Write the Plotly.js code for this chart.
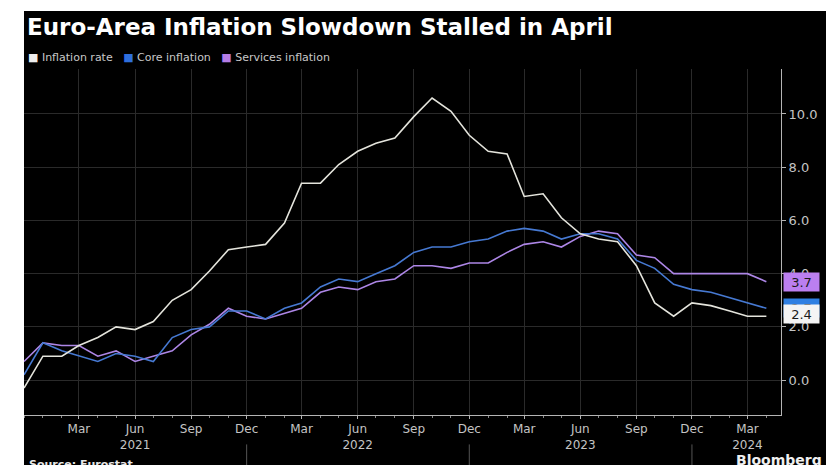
<!DOCTYPE html>
<html>
<head>
<meta charset="utf-8">
<script src="https://cdn.plot.ly/plotly-3.0.1.min.js"></script>
<style>
  html, body { margin: 0; padding: 0; background: #ffffff; }
  #chart { position: absolute; left: 24px; top: 11px; width: 802px; height: 454px; }
</style>
</head>
<body>
<div id="chart"></div>
<script>
// ---- Data (Eurostat, annual % change) ----
const months = [
  '2020-12',
  '2021-01','2021-02','2021-03','2021-04','2021-05','2021-06','2021-07','2021-08','2021-09','2021-10','2021-11','2021-12',
  '2022-01','2022-02','2022-03','2022-04','2022-05','2022-06','2022-07','2022-08','2022-09','2022-10','2022-11','2022-12',
  '2023-01','2023-02','2023-03','2023-04','2023-05','2023-06','2023-07','2023-08','2023-09','2023-10','2023-11','2023-12',
  '2024-01','2024-02','2024-03','2024-04'
];
const inflationRate = [
  -0.3,
  0.9, 0.9, 1.3, 1.6, 2.0, 1.9, 2.2, 3.0, 3.4, 4.1, 4.9, 5.0,
  5.1, 5.9, 7.4, 7.4, 8.1, 8.6, 8.9, 9.1, 9.9, 10.6, 10.1, 9.2,
  8.6, 8.5, 6.9, 7.0, 6.1, 5.5, 5.3, 5.2, 4.3, 2.9, 2.4, 2.9,
  2.8, 2.6, 2.4, 2.4
];
const coreInflation = [
  0.2,
  1.4, 1.1, 0.9, 0.7, 1.0, 0.9, 0.7, 1.6, 1.9, 2.0, 2.6, 2.6,
  2.3, 2.7, 2.9, 3.5, 3.8, 3.7, 4.0, 4.3, 4.8, 5.0, 5.0, 5.2,
  5.3, 5.6, 5.7, 5.6, 5.3, 5.5, 5.5, 5.3, 4.5, 4.2, 3.6, 3.4,
  3.3, 3.1, 2.9, 2.7
];
const servicesInflation = [
  0.7,
  1.4, 1.3, 1.3, 0.9, 1.1, 0.7, 0.9, 1.1, 1.7, 2.1, 2.7, 2.4,
  2.3, 2.5, 2.7, 3.3, 3.5, 3.4, 3.7, 3.8, 4.3, 4.3, 4.2, 4.4,
  4.4, 4.8, 5.1, 5.2, 5.0, 5.4, 5.6, 5.5, 4.7, 4.6, 4.0, 4.0,
  4.0, 4.0, 4.0, 3.7
];
const seriesNames = ['Inflation rate', 'Core inflation', 'Services inflation'];
const tickVals = [
  '2021-03','2021-06','2021-09','2021-12',
  '2022-03','2022-06','2022-09','2022-12',
  '2023-03','2023-06','2023-09','2023-12',
  '2024-03'
];
const tickText = [
  'Mar','Jun<br>2021','Sep','Dec',
  'Mar','Jun<br>2022','Sep','Dec',
  'Mar','Jun<br>2023','Sep','Dec',
  'Mar<br>2024'
];
const yTickVals = [0, 2, 4, 6, 8, 10];

// ---- Styles ----
const lineColors = ['#e4e4dc', '#4679d2', '#ad86e6'];
const labelColors = ['#f4f4f4', '#2f7fe2', '#bb7ff0'];
const legendColors = ['#eeeeee', '#2f6fdc', '#b57de6'];
const seriesData = [inflationRate, coreInflation, servicesInflation];

const traces = seriesData.map((vals, i) => ({
  type: 'scatter',
  mode: 'lines',
  x: months,
  y: vals,
  name: seriesNames[i],
  line: { color: lineColors[i], width: 1.6 },
  showlegend: false,
  hoverinfo: 'skip'
}));
// draw order: services, core, headline on top
const ordered = [traces[2], traces[1], traces[0]];

const legendText = seriesNames.map((n, i) =>
  '<span style="color:' + legendColors[i] + '">■</span> ' + n
).join('&nbsp;&nbsp;&nbsp;');

const annotations = [
  {
    xref: 'paper', yref: 'paper', x: 0.002, y: 1.032,
    xanchor: 'left', yanchor: 'middle', showarrow: false,
    text: legendText,
    font: { family: 'DejaVu Sans', size: 11, color: '#c8c8c8' }
  },
  {
    xref: 'paper', yref: 'paper', x: 0.004, y: -0.118,
    xanchor: 'left', yanchor: 'top', showarrow: false,
    text: 'Source: Eurostat',
    font: { family: 'DejaVu Sans', size: 11, color: '#e8e8e8', weight: 'bold' }
  },
  {
    xref: 'paper', yref: 'paper', x: 0.938, y: -0.1,
    xanchor: 'left', yanchor: 'top', showarrow: false,
    text: 'Bloomberg',
    font: { family: 'DejaVu Sans', size: 14, color: '#f0f0f0', weight: 'bold' }
  }
];
// end-value labels: services, core, headline (headline on top)
[2, 1, 0].forEach(i => {
  const vals = seriesData[i];
  const last = vals[vals.length - 1];
  annotations.push({
    xref: 'paper', yref: 'y', x: 1.0026, y: last,
    xanchor: 'left', yanchor: 'middle', showarrow: false,
    yshift: i === 0 ? 2 : 0,
    text: last.toFixed(1),
    bgcolor: labelColors[i], borderpad: 1, width: 33, height: 16, align: 'center', valign: 'middle',
    font: { family: 'DejaVu Sans', size: 13, color: '#1a1a1a' }
  });
});

// faint year separators under the Dec ticks
const shapes = tickVals.filter((v, i) => tickText[i] === 'Dec').map(v => ({
  type: 'line', xref: 'x', yref: 'paper', x0: v, x1: v, y0: -0.085, y1: -0.145,
  line: { color: '#555555', width: 1 }
}));

const layout = {
  width: 802, height: 454,
  paper_bgcolor: '#000000', plot_bgcolor: '#000000',
  margin: { l: 0, r: 45, t: 58, b: 50 },
  title: {
    text: 'Euro-Area Inflation Slowdown Stalled in April',
    xref: 'container', yref: 'container',
    x: 3 / 802, xanchor: 'left', y: 1 - 16 / 454, yanchor: 'middle',
    font: { family: 'DejaVu Sans', size: 23, color: '#ffffff', weight: 'bold' }
  },
  showlegend: false,
  hovermode: false,
  xaxis: {
    type: 'date',
    range: ['2020-12-01', '2024-04-25'],
    tickmode: 'array', tickvals: tickVals, ticktext: tickText,
    tickfont: { family: 'DejaVu Sans', size: 12, color: '#c4c4c4' },
    showgrid: true, gridcolor: '#2a2a2a', gridwidth: 1,
    showline: true, linecolor: '#b4b4b4', linewidth: 1,
    ticks: 'outside', ticklen: 3, tickcolor: '#b4b4b4',
    minor: { tickmode: 'linear', tick0: '2020-12-01', dtick: 'M1', ticks: 'outside', ticklen: 2, tickcolor: '#888888', showgrid: false },
    zeroline: false, fixedrange: true
  },
  yaxis: {
    side: 'right',
    range: [-1.31, 11.69],
    tickmode: 'array', tickvals: yTickVals,
    tickformat: '.1f',
    tickfont: { family: 'DejaVu Sans', size: 13, color: '#c4c4c4' },
    ticks: 'outside', ticklen: 4, tickcolor: '#b4b4b4',
    showline: true, linecolor: '#b4b4b4', linewidth: 1,
    showgrid: true, gridcolor: '#2a2a2a', gridwidth: 1,
    zeroline: false, fixedrange: true
  },
  annotations: annotations,
  shapes: shapes
};

Plotly.newPlot('chart', ordered, layout, { displayModeBar: false, staticPlot: true });
</script>
</body>
</html>
